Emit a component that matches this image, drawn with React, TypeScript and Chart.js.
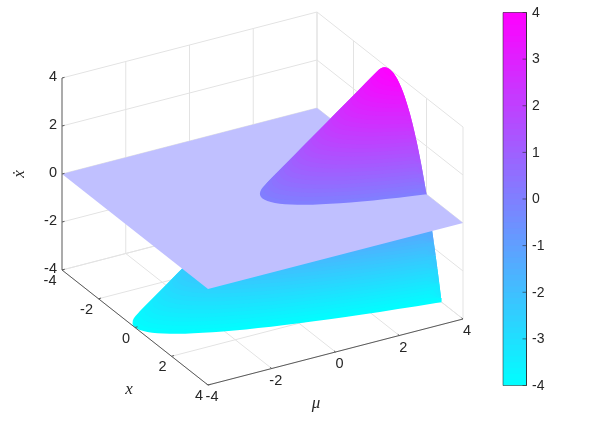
import React, { useEffect, useRef } from "react";
import { Chart, registerables } from "chart.js";

Chart.register(...registerables);

// ---- axis ticks ----
const muTicks = [-4, -2, 0, 2, 4];
const xTicks = [-4, -2, 0, 2, 4];
const zTicks = [-4, -2, 0, 2, 4];
const colorbarTicks = [-4, -3, -2, -1, 0, 1, 2, 3, 4];

// ---- the plane xdot = 0: corners (mu, x) ----
const planeMu = [-4, 4, 4, -4, -4];
const planeX = [-4, -4, 4, 4, -4];

// ---- the curved surface: x samples and the mu at which xdot = 0 for each x (visible sheet) ----
const surfaceX = [
  -0.7, -0.6, -0.5, -0.4, -0.3, -0.2, -0.1, 0, 0.1, 0.2, 0.3, 0.4, 0.5, 0.6, 0.7, 0.8, 0.9, 1,
  1.1, 1.2, 1.3, 1.4, 1.5, 1.6, 1.7, 1.8, 1.9, 2, 2.1, 2.2, 2.3, 2.4, 2.5, 2.6, 2.7, 2.8, 2.83,
];
const surfaceMuAtZero = [
  0.49, 0.36, 0.25, 0.16, 0.09, 0.04, 0.01, 0, 0.01, 0.04, 0.09, 0.16, 0.25, 0.36, 0.49, 0.64, 0.81, 1,
  1.21, 1.44, 1.69, 1.96, 2.25, 2.56, 2.89, 3.24, 3.61, 4, 4.41, 4.84, 5.29, 5.76, 6.25, 6.76, 7.29, 7.84, 8,
];
// xdot contour levels (colour bands)
const xdotLevels = [
  -4, -3.875, -3.75, -3.625, -3.5, -3.375, -3.25, -3.125, -3, -2.875, -2.75, -2.625, -2.5, -2.375, -2.25, -2.125,
  -2, -1.875, -1.75, -1.625, -1.5, -1.375, -1.25, -1.125, -1, -0.875, -0.75, -0.625, -0.5, -0.375, -0.25, -0.125,
  0, 0.125, 0.25, 0.375, 0.5, 0.625, 0.75, 0.875, 1, 1.125, 1.25, 1.375, 1.5, 1.625, 1.75, 1.875,
  2, 2.125, 2.25, 2.375, 2.5, 2.625, 2.75, 2.875, 3, 3.125, 3.25, 3.375, 3.5, 3.625, 3.75, 3.875, 4,
];

// ---- view ("camera") ----
const W = 600;
const H = 425;
const ORIGIN = { px: 62, py: 270 }; // (mu, x, z) = (-4, -4, -4)
const MU_STEP = { px: 31.875, py: -8.25 };
const X_STEP = { px: 18.25, py: 14.375 };
const Z_STEP = -24;
const project = (mu: number, x: number, z: number) => ({
  x: ORIGIN.px + (mu + 4) * MU_STEP.px + (x + 4) * X_STEP.px,
  y: ORIGIN.py + (mu + 4) * MU_STEP.py + (x + 4) * X_STEP.py + (z + 4) * Z_STEP,
});
const BAR = { left: 503, right: 526.5, top: 12.5, bottom: 385.5 };
const barY = (v: number) => BAR.bottom - ((v + 4) / 8) * (BAR.bottom - BAR.top);

const cool = (v: number) => {
  const t = Math.max(0, Math.min(1, (v + 4) / 8));
  return `rgb(${Math.round(t * 255)},${Math.round((1 - t) * 255)},255)`;
};

const GRID = "#e3e3e3";
const AXIS = "#5a5a5a";
const TEXT = "#262626";

type P = { x: number; y: number };
const stroke = (data: P[], color: string, width = 1) => ({
  data,
  borderColor: color,
  borderWidth: width,
  fill: false,
  showLine: true,
  pointRadius: 0,
  clip: false,
});
const shape = (data: P[], color: string) => ({
  data,
  borderColor: color,
  backgroundColor: color,
  borderWidth: 0,
  fill: "shape",
  showLine: true,
  pointRadius: 0,
  tension: 0,
  clip: false,
});

// One band of the surface between two xdot levels, cut off at the mu = 4 edge.
const surfaceBand = (lo: number, hi: number) => {
  const vertex = (level: number, i: number) => {
    const atZero = surfaceMuAtZero[i];
    const mu = Math.min(4, level + atZero);
    return project(mu, surfaceX[i], mu - atZero);
  };
  const inside = surfaceX.map((_, i) => i).filter((i) => lo + surfaceMuAtZero[i] < 4);
  if (inside.length === 0) return [];
  const first = Math.max(0, inside[0] - 1);
  const lastI = Math.min(surfaceX.length - 1, inside[inside.length - 1] + 1);
  const pts: P[] = [];
  for (let i = first; i <= lastI; i++) pts.push(vertex(lo, i));
  for (let i = lastI; i >= first; i--) pts.push(vertex(hi, i));
  pts.push(pts[0]);
  return pts;
};

const buildDatasets = () => {
  const list: any[] = [];
  // back walls and floor grid
  zTicks.forEach((z) => {
    list.push(stroke([project(-4, -4, z), project(4, -4, z), project(4, 4, z)], GRID));
  });
  muTicks.forEach((mu) => {
    list.push(stroke([project(mu, 4, -4), project(mu, -4, -4), project(mu, -4, 4)], GRID));
  });
  xTicks.forEach((x) => {
    list.push(stroke([project(-4, x, -4), project(4, x, -4), project(4, x, 4)], GRID));
  });
  // Each band reaches into the next one, which then paints over it: no seams between bands.
  const last = xdotLevels.length - 1;
  // surface below the plane
  for (let k = 0; k < last; k++) {
    const lo = xdotLevels[k];
    const hi = xdotLevels[k + 1];
    if (hi <= 0) list.push(shape(surfaceBand(lo, xdotLevels[k + 2]), cool((lo + hi) / 2)));
  }
  // the plane xdot = 0
  list.push(shape(planeMu.map((m, i) => project(m, planeX[i], 0)), "rgb(192,192,255)"));
  // surface above the plane
  for (let k = 0; k < last; k++) {
    const lo = xdotLevels[k];
    const hi = xdotLevels[k + 1];
    if (lo >= 0) list.push(shape(surfaceBand(lo, xdotLevels[Math.min(k + 2, last)]), cool((lo + hi) / 2)));
  }
  // axes
  list.push(stroke([project(-4, -4, -4), project(-4, -4, 4)], "#9a9a9a", 1.6));
  list.push(stroke([project(-4, -4, -4), project(-4, 4, -4), project(4, 4, -4)], AXIS, 1));
  xTicks.forEach((x) => {
    list.push(stroke([project(-4, x, -4), project(-3.92, x, -4)], AXIS, 1));
  });
  muTicks.forEach((mu) => {
    list.push(stroke([project(mu, 4, -4), project(mu, 3.92, -4)], AXIS, 1));
  });
  zTicks.forEach((z) => {
    list.push(stroke([project(-4, -4, z), project(-3.92, -4, z)], AXIS, 1));
  });
  // colour bar
  for (let k = 0; k < last; k++) {
    const lo = xdotLevels[k];
    const hi = xdotLevels[Math.min(k + 2, last)];
    const c = cool((lo + xdotLevels[k + 1]) / 2);
    list.push(
      shape(
        [
          { x: BAR.left, y: barY(lo) },
          { x: BAR.right, y: barY(lo) },
          { x: BAR.right, y: barY(hi) },
          { x: BAR.left, y: barY(hi) },
          { x: BAR.left, y: barY(lo) },
        ],
        c,
      ),
    );
  }
  list.push(
    stroke(
      [
        { x: BAR.left, y: BAR.top },
        { x: BAR.right, y: BAR.top },
        { x: BAR.right, y: BAR.bottom },
        { x: BAR.left, y: BAR.bottom },
        { x: BAR.left, y: BAR.top },
      ],
      "rgba(40,40,40,0.55)",
      1,
    ),
  );
  colorbarTicks.forEach((v) => {
    list.push(
      stroke(
        [
          { x: BAR.right - 4, y: barY(v) },
          { x: BAR.right, y: barY(v) },
        ],
        "rgba(40,40,40,0.6)",
        1,
      ),
    );
  });
  const n = list.length;
  return list.map((d, i) => ({ ...d, order: n - i }));
};

const labelsPlugin = {
  id: "labels3d",
  afterDatasetsDraw(chart: any) {
    const { ctx, scales } = chart;
    const sx = (v: number) => scales.x.getPixelForValue(v);
    const sy = (v: number) => scales.y.getPixelForValue(v);
    ctx.save();
    ctx.fillStyle = TEXT;
    ctx.textBaseline = "middle";
    ctx.font = '14.5px "Liberation Sans"';
    ctx.textAlign = "right";
    zTicks.forEach((z) => {
      const p = project(-4, -4, z);
      ctx.fillText(String(z), sx(p.x - 5), sy(p.y - 1.5));
    });
    ctx.textAlign = "center";
    xTicks.forEach((x) => {
      const p = project(-4, x, -4);
      ctx.fillText(String(x), sx(p.x - (x < 0 ? 12 : 9)), sy(p.y + 11));
    });
    muTicks.forEach((mu) => {
      const p = project(mu, 4, -4);
      ctx.fillText(String(mu), sx(p.x + 4), sy(p.y + 12));
    });
    ctx.textAlign = "left";
    ctx.font = '14px "Liberation Sans"';
    colorbarTicks.forEach((v) => {
      ctx.fillText(String(v), sx(532), sy(barY(v) + 0.5));
    });
    ctx.textAlign = "center";
    ctx.font = 'italic 17px "Liberation Serif"';
    ctx.fillText("\u03bc", sx(316), sy(404));
    ctx.fillText("x", sx(129), sy(390));
    ctx.translate(sx(20), sy(174));
    ctx.rotate(-Math.PI / 2);
    ctx.fillText("\u1e8b", 0, 0);
    ctx.restore();
  },
};

export default function App() {
  const ref = useRef<HTMLCanvasElement>(null);
  useEffect(() => {
    if (!ref.current) return;
    const chart = new Chart(ref.current, {
      type: "scatter",
      data: { datasets: buildDatasets() as any },
      options: {
        responsive: false,
        animation: false,
        events: [],
        layout: { padding: 0 },
        plugins: {
          legend: { display: false },
          tooltip: { enabled: false },
          filler: { drawTime: "beforeDatasetDraw" },
        } as any,
        scales: {
          x: { type: "linear", display: false, min: 0, max: W },
          y: { type: "linear", display: false, min: 0, max: H, reverse: true },
        },
      },
      plugins: [labelsPlugin],
    });
    return () => chart.destroy();
  }, []);
  return (
    <div style={{ position: "absolute", left: 0, top: 0, width: W, height: H, background: "#fff" }}>
      <canvas ref={ref} width={W} height={H} style={{ display: "block" }} />
    </div>
  );
}
